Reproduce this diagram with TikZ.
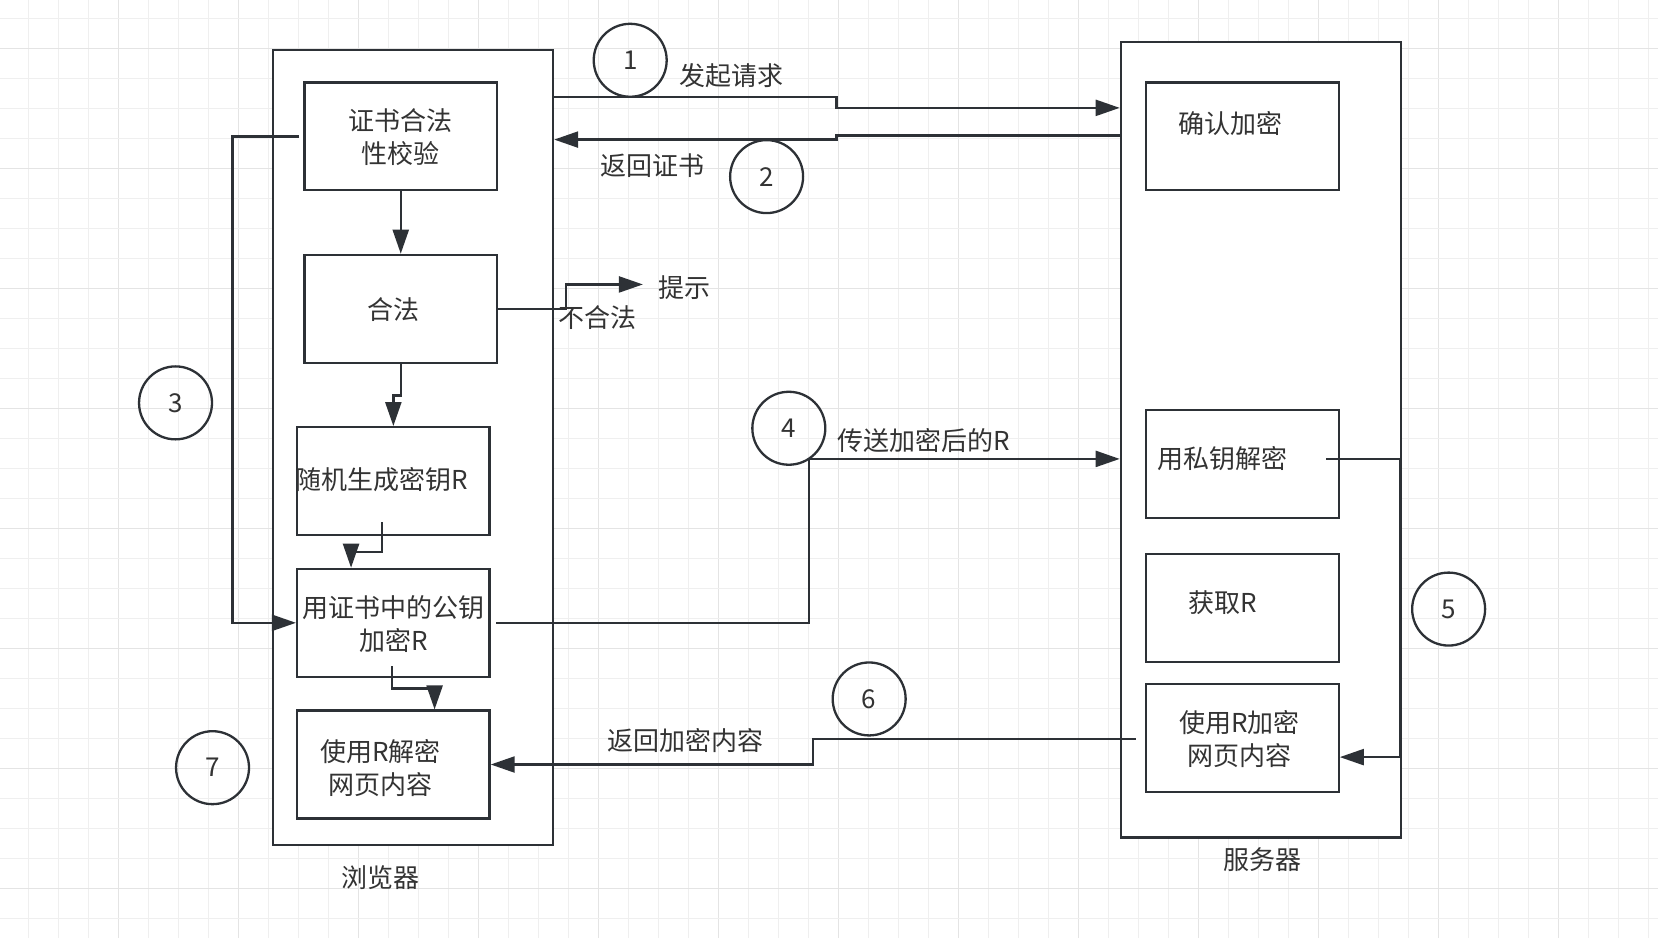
\documentclass[tikz,border=0pt]{standalone}
\usepackage{fontspec}
\setmainfont{Noto Sans CJK SC}
\usetikzlibrary{arrows.meta,calc}
\definecolor{linec}{HTML}{2D3136}
\definecolor{textc}{HTML}{333333}
\definecolor{gridl}{HTML}{EFEFEF}
\definecolor{gridd}{HTML}{E4E4E4}
\begin{document}
\begin{tikzpicture}[x=0.5287pt,y=-0.5287pt,
  ln/.style={draw=linec,line width=1.15pt},
  arr/.style={ln,-{Triangle[length=12pt,width=8pt]}},
  box/.style={draw=linec,line width=1.15pt,fill=white,inner sep=0pt},
  inbox/.style={box,minimum width=182*0.5287pt,minimum height=102*0.5287pt},
  outbox/.style={box,minimum width=265*0.5287pt,minimum height=752*0.5287pt},
  circ/.style={circle,draw=linec,line width=1.15pt,minimum size=69*0.5287pt,inner sep=0pt,text=textc,font=\fontsize{13}{16}\selectfont},
  txt/.style={text=textc,font=\fontsize{13}{16.4}\selectfont,align=center,inner sep=1pt}
]
% background and grid
\fill[white] (0,0) rectangle (1568,887);
\useasboundingbox (0,0) rectangle (1568,887);
\foreach \i in {0,...,55}{
  \pgfmathtruncatemacro{\m}{mod(\i,4)}
  \ifnum\m=3 \def\gc{gridd}\else\def\gc{gridl}\fi
  \draw[draw=\gc,line width=0.7pt] (26.76+28.372*\i,0) -- (26.76+28.372*\i,887);
}
\foreach \j in {0,...,31}{
  \pgfmathtruncatemacro{\m}{mod(\j,4)}
  \ifnum\m=1 \def\gc{gridd}\else\def\gc{gridl}\fi
  \draw[draw=\gc,line width=0.7pt] (0,17.3+28.372*\j) -- (1568,17.3+28.372*\j);
}
% outer containers
\node[outbox] (browser) at (390.5,423) {};
\node[outbox] (server) at (1192.5,416) {};
% browser boxes
\node[inbox] (cert) at (379,129) {};
\node[inbox] (legal) at (379,292) {};
\node[inbox] (rand) at (372,455) {};
\node[inbox] (enc) at (372,589) {};
\node[inbox] (dec) at (372,723) {};
% server boxes
\node[inbox] (conf) at (1175,129) {};
\node[inbox] (priv) at (1175,439) {};
\node[inbox] (getr) at (1175,575) {};
\node[inbox] (senc) at (1175,698) {};
% box texts
\node[txt] (tcert) at (379,130) {证书合法\\性校验};
\node[txt] (tlegal) at (372,293) {合法};
\node[txt] (trand) at (361,454) {随机生成密钥R};
\node[txt] (tenc) at (372,590) {用证书中的公钥\\加密R};
\node[txt] (tdec) at (360,726) {使用R解密\\网页内容};
\node[txt] (tconf) at (1164,117) {确认加密};
\node[txt] (tpriv) at (1156,434) {用私钥解密};
\node[txt] (tgetr) at (1156,570) {获取R};
\node[txt] (tsenc) at (1172,699) {使用R加密\\网页内容};
% captions
\node[txt] (lb) at (360,830) {浏览器};
\node[txt] (ls) at (1194,813) {服务器};
% connectors
\draw[arr] (browser.east |- 0,92) -- (791,92) -- (791,102) -- (server.west |- 0,102);
\draw[arr] (server.west |- 0,128) -- (791,128) -- (791,132) -- (browser.east |- 0,132);
\draw[arr] (cert.south) -- (legal.north);
\draw[arr] (legal.south) -- ++(0,30) -| (rand.north);
\coordinate (hint) at (608,269);
\draw[arr] (legal.east) -- (535,292) |- (hint);
\draw[arr] ($(rand.south)+(-11,-13)$) -- ++(0,28) -| (enc.north -| 332,0);
\draw[arr] ($(enc.south)+(-1,-11)$) -- ++(0,21) -| (dec.north -| 411,0);
\draw[arr] ($(cert.west)+(-4,0)$) -- (220,129) |- (enc.west);
\draw[arr] ($(enc.east)+(5,0)$) -- (765,589) |- (server.west |- 0,434);
\draw[arr] ($(priv.east)+(-13,-5)$) -- (1324,434) |- (senc.east |- 0,716);
\draw[arr] ($(senc.west)+(-9,1)$) -- (769,699) |- (dec.east |- 0,723);
% edge labels
\node[txt] (l1) at (692,72) {发起请求};
\node[txt] (l2) at (617,157) {返回证书};
\node[txt] (lhint) at (647,272) {提示};
\node[txt] (lill) at (565,300) {不合法};
\node[txt] (l4) at (874,417) {传送加密后的R};
\node[txt] (l6) at (648,700) {返回加密内容};
% numbered circles
\node[circ] (c1) at (596,57) {1};
\node[circ] (c2) at (725,167) {2};
\node[circ] (c3) at (166,381) {3};
\node[circ] (c4) at (746,405) {4};
\node[circ] (c5) at (1370,576) {5};
\node[circ] (c6) at (822,661) {6};
\node[circ] (c7) at (201,726) {7};
\end{tikzpicture}
\end{document}
